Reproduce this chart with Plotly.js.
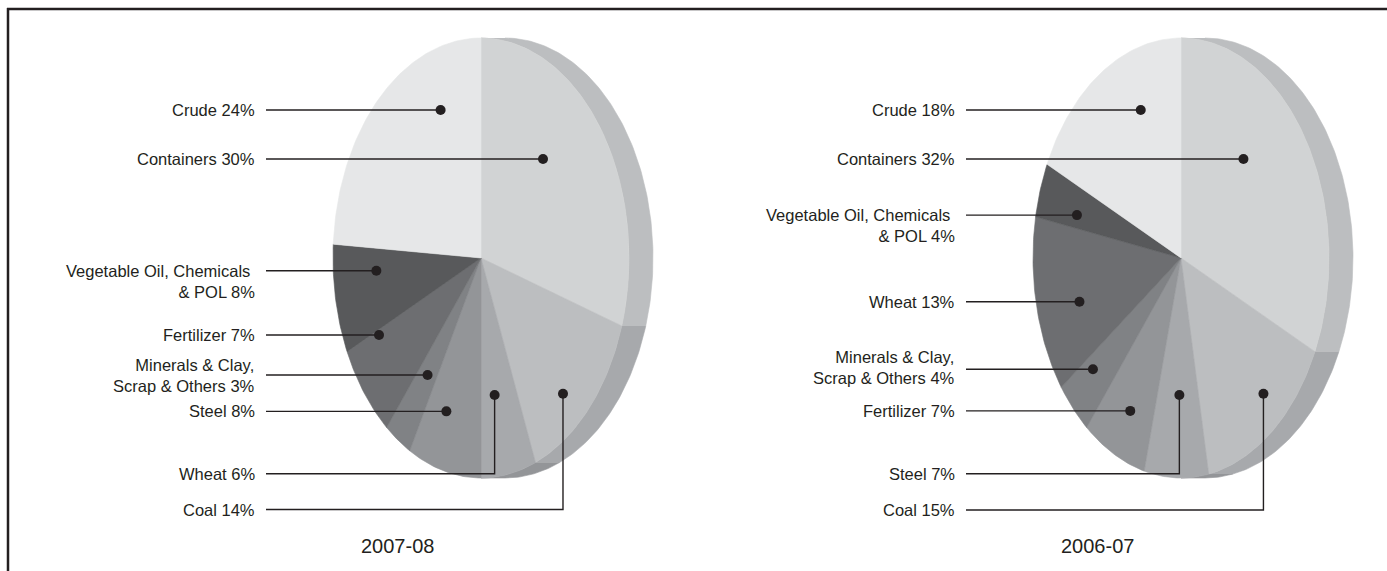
<!DOCTYPE html>
<html>
<head>
<meta charset="utf-8">
<script src="https://cdn.plot.ly/plotly-3.0.1.min.js"></script>
<style>
  html, body { margin: 0; padding: 0; background: #ffffff; }
  #chart { width: 1387px; height: 571px; }
</style>
</head>
<body>
<div id="chart"></div>
<script>
// Commodity share of cargo traffic (%), listed clockwise from 12 o'clock.
// A "\n" marks where a long category name wraps onto a second line.
const categories0708 = ['Containers', 'Coal', 'Wheat', 'Steel', 'Minerals & Clay,\nScrap & Others',
                        'Fertilizer', 'Vegetable Oil, Chemicals\u00a0\n& POL', 'Crude'];
const shares0708 = [30, 14, 6, 8, 3, 7, 8, 24];

const categories0607 = ['Containers', 'Coal', 'Steel', 'Fertilizer', 'Minerals & Clay,\nScrap & Others',
                        'Wheat', 'Vegetable Oil, Chemicals\u00a0\n& POL', 'Crude'];
const shares0607 = [32, 15, 7, 7, 4, 13, 4, 18];

const yearLabels = ['2007-08', '2006-07'];

// ---- styling ------------------------------------------------------------
const W = 1387, H = 571;
const INK = '#231f20';
const FONT = 'Liberation Sans, Arial, Helvetica, sans-serif';
// Grey ramp for the slice faces (clockwise order), the rim uses one step darker.
const faceColors = ['#d1d3d4', '#bcbec0', '#a7a9ac', '#939598', '#808285', '#6d6e71', '#58595b', '#e6e7e8'];
const rimColors  = ['#bcbec0', '#a7a9ac', '#939598', '#808285', '#6d6e71', '#58595b', '#414042', '#d1d3d4'];
const RIM_DEPTH = 24;      // horizontal thickness of the tilted disc
const LABEL_GAP = 224.5;   // label right edge, left of the pie centre
const LEADER_GAP = 215;    // leader line start, left of the pie centre

// Callout anchors, given as fractions of the pie radii (u across, v down);
// "row" is the label line for leaders that bend, "dy" nudges wrapped labels.
const calloutsA = [
  { u: 0.419, v: -0.450 },
  { u: 0.554, v: 0.617, row: 509.5 },
  { u: 0.092, v: 0.623, row: 473.7 },
  { u: -0.234, v: 0.697 },
  { u: -0.361, v: 0.532 },
  { u: -0.689, v: 0.350 },
  { u: -0.707, v: 0.058, dy: 10.5 },
  { u: -0.273, v: -0.673 }
];
const calloutsB = [
  { u: 0.422, v: -0.450 },
  { u: 0.557, v: 0.617, row: 510 },
  { u: -0.011, v: 0.623, row: 473.7 },
  { u: -0.343, v: 0.695 },
  { u: -0.595, v: 0.506, dy: -1.5 },
  { u: -0.686, v: 0.199 },
  { u: -0.703, v: -0.195, dy: 10 },
  { u: -0.272, v: -0.673 }
];

const pies = [
  { title: yearLabels[0], cats: categories0708, vals: shares0708, cx: 481, cy: 258, rx: 148, ry: 220, callouts: calloutsA },
  { title: yearLabels[1], cats: categories0607, vals: shares0607, cx: 1181, cy: 258, rx: 148, ry: 220, callouts: calloutsB }
];

// Points along the elliptical rim between two angles (degrees, clockwise from top).
function rimPoints(p, a1, a2, shift) {
  const xs = [], ys = [];
  const n = Math.max(2, Math.ceil(Math.abs(a2 - a1)) + 1);
  for (let i = 0; i < n; i++) {
    const a = (a1 + (a2 - a1) * i / (n - 1)) * Math.PI / 180;
    xs.push(p.cx + shift + p.rx * Math.sin(a));
    ys.push(p.cy - p.ry * Math.cos(a));
  }
  return [xs, ys];
}

const rimTraces = [], faceTraces = [], leaderTraces = [], dotTraces = [];
const annotations = [];

pies.forEach(p => {
  const total = p.vals.reduce((s, v) => s + v, 0);
  let acc = 0;
  const dotX = [], dotY = [];
  p.vals.forEach((v, i) => {
    const a1 = acc / total * 360;
    const a2 = (acc + v) / total * 360;
    acc += v;

    // visible rim (right half of the disc)
    const lo = Math.max(a1, 0), hi = Math.min(a2, 180);
    if (hi > lo) {
      const [fx, fy] = rimPoints(p, lo, hi, 0);
      const [bx, by] = rimPoints(p, hi, lo, RIM_DEPTH);
      rimTraces.push({
        type: 'scatter', mode: 'lines', fill: 'toself',
        x: fx.concat(bx), y: fy.concat(by),
        fillcolor: rimColors[i], line: { color: rimColors[i], width: 0.6 },
        hoverinfo: 'skip'
      });
    }

    // slice face
    const [ax, ay] = rimPoints(p, a1, a2, 0);
    faceTraces.push({
      type: 'scatter', mode: 'lines', fill: 'toself',
      x: [p.cx].concat(ax, [p.cx]), y: [p.cy].concat(ay, [p.cy]),
      fillcolor: faceColors[i], line: { color: faceColors[i], width: 0.6 },
      hoverinfo: 'skip'
    });

    // callout
    const c = p.callouts[i];
    const dx = p.cx + c.u * p.rx, dy = p.cy + c.v * p.ry;
    dotX.push(dx); dotY.push(dy);
    const row = c.row !== undefined ? c.row : dy;
    const lx = p.cx - LEADER_GAP;
    leaderTraces.push({
      type: 'scatter', mode: 'lines',
      x: c.row !== undefined ? [lx, dx, dx] : [lx, dx],
      y: c.row !== undefined ? [row, row, dy] : [row, row],
      line: { color: INK, width: 1.4 }, hoverinfo: 'skip'
    });
    annotations.push({
      xref: 'x', yref: 'y', x: p.cx - LABEL_GAP, y: row + (c.dy || 0),
      xanchor: 'right', yanchor: 'middle', align: 'right', showarrow: false,
      text: p.cats[i].replace('\n', '<br>') + ' ' + v + '%',
      font: { family: FONT, size: 16.5, color: INK }
    });
  });

  dotTraces.push({
    type: 'scatter', mode: 'markers', x: dotX, y: dotY,
    marker: { size: 10, color: INK }, hoverinfo: 'skip'
  });

  annotations.push({
    xref: 'x', yref: 'y', x: p.cx - 83.5, y: 546,
    xanchor: 'center', yanchor: 'middle', showarrow: false,
    text: p.title, font: { family: FONT, size: 20, color: INK }
  });
});

const layout = {
  width: W, height: H, autosize: false,
  margin: { l: 0, r: 0, t: 0, b: 0, pad: 0 },
  paper_bgcolor: '#ffffff', plot_bgcolor: '#ffffff',
  showlegend: false,
  xaxis: { range: [0, W], visible: false, fixedrange: true },
  yaxis: { range: [H, 0], visible: false, fixedrange: true },
  annotations: annotations,
  shapes: [
    // frame rules along the top and left edges
    { type: 'line', xref: 'x', yref: 'y', x0: 7, x1: W, y0: 9, y1: 9, line: { color: INK, width: 2.5 } },
    { type: 'line', xref: 'x', yref: 'y', x0: 8, x1: 8, y0: 8, y1: H, line: { color: INK, width: 2.5 } }
  ]
};

Plotly.newPlot('chart', rimTraces.concat(faceTraces, leaderTraces, dotTraces), layout,
  { staticPlot: true, displayModeBar: false });
</script>
</body>
</html>
